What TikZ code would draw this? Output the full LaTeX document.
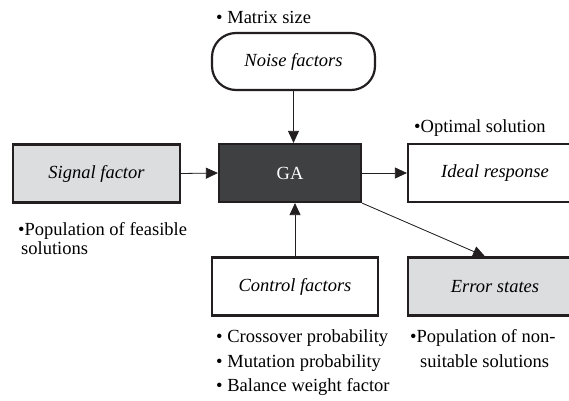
\documentclass[tikz,border=0pt]{standalone}
\usepackage{fontspec}
\setmainfont{Liberation Serif}
\usetikzlibrary{arrows.meta}
\tikzset{>={Triangle[length=12pt,width=11pt]}}
\definecolor{boxLine}{HTML}{231F20}
\definecolor{lightGray}{HTML}{DCDDDF}
\definecolor{darkGray}{HTML}{3F4042}
\tikzset{
  box/.style={draw=boxLine, line width=2.2pt, minimum height=58pt, inner sep=0pt,
    font=\fontsize{18.5}{20}\selectfont\itshape},
  link/.style={->, line width=0.8pt, draw=boxLine, fill=boxLine},
  note/.style={anchor=base west, inner sep=0pt, align=left,
    font=\fontsize{18.5}{24.5}\selectfont}
}

\begin{document}
\begin{tikzpicture}[x=1pt,y=1pt]
				\useasboundingbox (0,0) rectangle (569,400);
				\clip (0,0) rectangle (569,400);
				\fill[white] (0,0) rectangle (569,400);
				% boxes
				\node[box, rounded corners=24pt, fill=white, minimum width=163pt, minimum height=57pt] (noise) at (293.5,338.5) {Noise factors};
				\node[box, fill=darkGray, text=white, font=\fontsize{18.5}{20}\selectfont, minimum width=142pt] (ga) at (290,227) {GA};
				\node[box, fill=lightGray, minimum width=167pt] (signal) at (96.5,226.5) {Signal factor};
				\node[box, fill=white, minimum width=174pt] (ideal) at (495,227) {Ideal response};
				\node[box, fill=white, minimum width=166pt] (control) at (295,113.5) {Control factors};
				\node[box, fill=lightGray, minimum width=174pt] (error) at (495,113.5) {Error states};
				% arrows
				\draw[link] (noise.south) -- (noise.south |- ga.north);
				\draw[link] (signal.east) -- (ga.west);
				\draw[link] (ga.east) -- (ideal.west);
				\draw[link] (control.north) -- (control.north |- ga.south);
				\draw[link] (ga.south east) -- ([xshift=-10pt]error.north);
				% notes (base = last line)
				\node[note] (nMatrix) at (216,376) {• Matrix size};
				\node[note] (nOptimal) at (414,268) {•Optimal solution};
				\node[note, font=\fontsize{18.5}{18.5}\selectfont] (nFeasible) at (18,146) {•Population of feasible\\\hspace*{3pt}solutions};
				\node[note] (nControl) at (216,8.5) {• Crossover probability\\• Mutation probability\\• Balance weight factor};
				\node[note] (nError) at (410,33) {•Population of non-\\\hspace*{10pt}suitable solutions};
\end{tikzpicture}
\end{document}
